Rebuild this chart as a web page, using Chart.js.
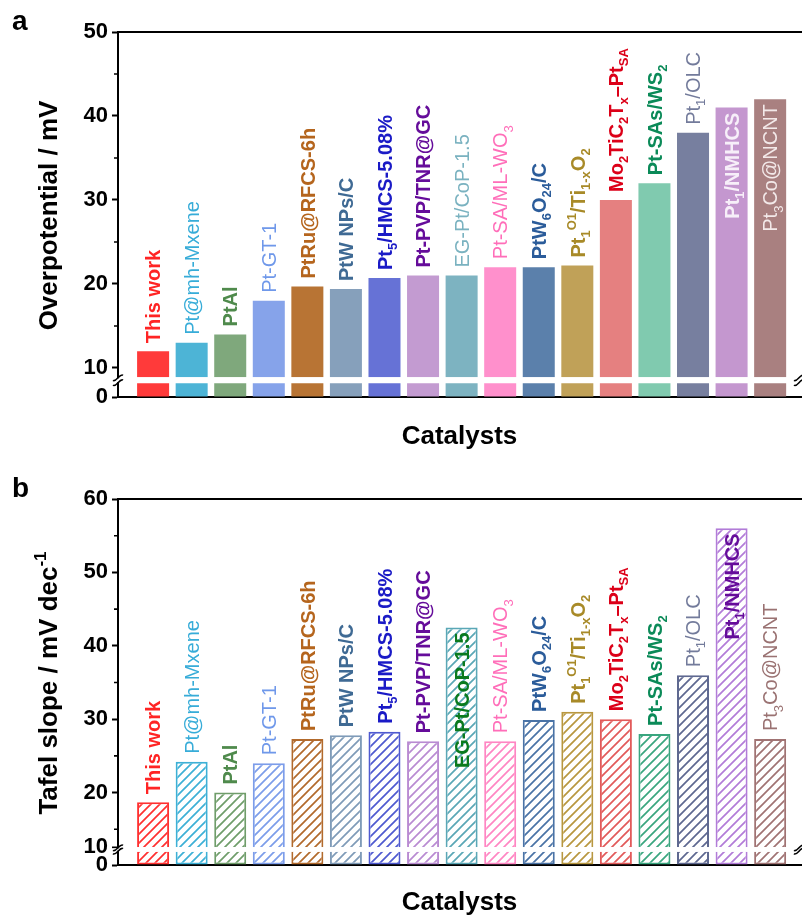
<!DOCTYPE html>
<html>
<head>
<meta charset="utf-8">
<title>Overpotential and Tafel slope of Pt-based catalysts</title>
<script src="https://cdn.jsdelivr.net/npm/chart.js@4.4.0/dist/chart.umd.min.js"></script>
<style>
  html, body { margin: 0; padding: 0; background: #fff; }
  .panel { position: relative; width: 802px; height: 460px; }
  canvas { display: block; }
</style>
</head>
<body>
<div class="panel"><canvas id="chartA" width="802" height="460"></canvas></div>
<div class="panel"><canvas id="chartB" width="802" height="460"></canvas></div>
<script>
// ---- data ------------------------------------------------------------
// Catalyst names; _{..} marks a subscript and ^{..} a superscript.
const CATALYSTS = [
  'This work', 'Pt@mh-Mxene', 'PtAl', 'Pt-GT-1', 'PtRu@RFCS-6h', 'PtW NPs/C',
  'Pt_{5}/HMCS-5.08%', 'Pt-PVP/TNR@GC', 'EG-Pt/CoP-1.5', 'Pt-SA/ML-WO_{3}',
  'PtW_{6}O_{24}/C', 'Pt_{1}^{O1}/Ti_{1-x}O_{2}', 'Mo_{2}TiC_{2}T_{x}\u2013Pt_{SA}',
  'Pt-SAs/WS_{2}', 'Pt_{1}/OLC', 'Pt_{1}/NMHCS', 'Pt_{3}Co@NCNT'
];
// Overpotential at 10 mA cm-2 (mV)
const OVERPOTENTIAL = [12, 13, 14, 18, 19.7, 19.4, 20.7, 21, 21, 22, 22, 22.2, 30, 32, 38, 41, 42];
// Tafel slope (mV dec-1)
const TAFEL_SLOPE = [18.7, 24.2, 20, 24, 27.3, 27.8, 28.3, 27, 42.5, 27, 29.9, 31, 30, 28, 36, 56, 27.3];

// Tick values of the broken y axes
const A_MAJOR_TICKS = [10, 20, 30, 40, 50];
const A_MINOR_TICKS = [15, 25, 35, 45];
const A_LOW_TICKS = [0];
const B_MAJOR_TICKS = [20, 30, 40, 50, 60];
const B_MINOR_TICKS = [15, 25, 35, 45, 55];
const B_LOW_TICKS = [0, 10];

// Axis break ranges: upper segment [hiMin, hiMax], lower segment [0, loMax],
// lower stubs are drawn up to loStub so that a white gap marks the break.
const A_AXIS = { hiMin: 8.89, hiMax: 50, loMax: 10, loStub: 7 };
const B_AXIS = { hiMin: 12.55, hiMax: 60, loMax: 10, loStub: 7.5 };

// ---- styles ----------------------------------------------------------
const FONT = 'Arial, "Liberation Sans", Helvetica, sans-serif';

const A_BAR_COLORS = ['#ff3a3a', '#4db4d6', '#7fa87c', '#86a3ea', '#b87434', '#86a0bb', '#6672d6',
  '#c39bd1', '#7db3c1', '#ff90cc', '#5b80ab', '#c0a158', '#e58080', '#80caaf', '#777f9f', '#c497cf', '#a98080'];
const A_LABEL_COLORS = ['#ff2424', '#37acd8', '#4f8a4c', '#6f98ea', '#b5651d', '#3f6a94', '#1a1ac6',
  '#650c9a', '#7ab2c0', '#ff6eb9', '#2b5c9a', '#a88a28', '#dc0018', '#0b8a58', '#737b9b', '#f7eff9', '#f3e9e9'];
const A_LABEL_BOLD = [1, 0, 1, 0, 1, 1, 1, 1, 0, 0, 1, 1, 1, 1, 0, 1, 0];
const A_LABEL_INSIDE = [15, 16];

const B_BAR_COLORS = ['#ff3030', '#3db0d6', '#6f9d6a', '#7c9dea', '#b26a2c', '#7f9bb8', '#4f5ad0',
  '#b98bd2', '#5aa7b6', '#ff86c3', '#4a73a6', '#b8973f', '#e25a5a', '#3aa67f', '#5e6890', '#b27cd8', '#a07373'];
const B_LABEL_COLORS = ['#ff2424', '#37acd8', '#4f8a4c', '#6f98ea', '#b5651d', '#3f6a94', '#1a1ac6',
  '#650c9a', '#0a7a1e', '#ff6eb9', '#2b5c9a', '#a88a28', '#dc0018', '#0b8a58', '#737b9b', '#650c9a', '#9a7272'];
const B_LABEL_BOLD = [1, 0, 1, 0, 1, 1, 1, 1, 1, 0, 1, 1, 1, 1, 0, 1, 0];
const B_LABEL_INSIDE = [8, 15];

// ---- helpers -----------------------------------------------------------
function hatch(color) {
  const s = 9;
  const c = document.createElement('canvas');
  c.width = s; c.height = s;
  const g = c.getContext('2d');
  g.fillStyle = '#fff';
  g.fillRect(0, 0, s, s);
  g.strokeStyle = color;
  g.lineWidth = 1.7;
  g.beginPath();
  g.moveTo(-2, s + 2); g.lineTo(s + 2, -2);
  g.moveTo(-2, 2); g.lineTo(2, -2);
  g.moveTo(s - 2, s + 2); g.lineTo(s + 2, s - 2);
  g.stroke();
  return g.createPattern(c, 'repeat');
}

function parseRich(str) {
  const segs = [];
  const re = /([_^])\{([^}]*)\}|([^_^]+)/g;
  let m;
  while ((m = re.exec(str))) {
    if (m[3]) segs.push({ t: m[3], k: 0 });
    else segs.push({ t: m[2], k: m[1] === '_' ? 1 : -1 });
  }
  return segs;
}

function segFont(seg, size, weight) {
  const s = seg.k ? Math.round(size * 0.64) : size;
  return `${weight} ${s}px ${FONT}`;
}

function richWidth(ctx, segs, size, weight) {
  let w = 0;
  for (const seg of segs) { ctx.font = segFont(seg, size, weight); w += ctx.measureText(seg.t).width; }
  return w;
}

function drawRich(ctx, segs, x, y, size, weight) {
  let cx = x;
  for (const seg of segs) {
    ctx.font = segFont(seg, size, weight);
    const dy = seg.k === 1 ? size * 0.26 : seg.k === -1 ? -size * 0.42 : 0;
    ctx.fillText(seg.t, cx, y + dy);
    cx += ctx.measureText(seg.t).width;
  }
}

function breakMark(ctx, x, y) {
  ctx.beginPath();
  ctx.moveTo(x - 5, y + 2.5);
  ctx.bezierCurveTo(x - 2, y + 5, x + 2, y - 5, x + 5, y - 2.5);
  ctx.stroke();
}

// ---- one panel -----------------------------------------------------------
function makePanel(id, spec) {
  const ax = spec.axis;
  const n = CATALYSTS.length;
  const hatched = spec.hatched;
  const fills = spec.barColors.map(c => hatched ? hatch(c) : c);

  const decorations = {
    id: 'decorations',
    afterDatasetsDraw(chart) {
      const { ctx } = chart;
      const xs = chart.scales.x, yHi = chart.scales.yHi;
      ctx.save();
      ctx.textBaseline = 'alphabetic';
      ctx.textAlign = 'left';
      // catalyst names above (or inside) each bar
      for (let i = 0; i < n; i++) {
        const segs = parseRich(CATALYSTS[i]);
        const size = 20;
        const weight = spec.labelBold[i] ? 'bold' : 'normal';
        const cx = xs.getPixelForValue(i);
        const top = yHi.getPixelForValue(spec.values[i]);
        const w = richWidth(ctx, segs, size, weight);
        const inside = spec.labelInside.includes(i);
        const startY = inside ? top + 5 + w : top - 8;
        ctx.save();
        ctx.translate(cx + size * 0.36, startY);
        ctx.rotate(-Math.PI / 2);
        ctx.fillStyle = spec.labelColors[i];
        drawRich(ctx, segs, 0, 0, size, weight);
        ctx.restore();
      }
      ctx.restore();
    },
    afterDraw(chart) {
      const { ctx, chartArea } = chart;
      const yHi = chart.scales.yHi, yLo = chart.scales.yLo;
      ctx.save();
      ctx.strokeStyle = '#000';
      ctx.lineWidth = 2;
      // top frame line
      ctx.beginPath();
      ctx.moveTo(chartArea.left - 1, chartArea.top);
      ctx.lineTo(chartArea.right + 2, chartArea.top);
      ctx.stroke();
      // minor ticks on the upper segment
      ctx.lineWidth = 1.6;
      ctx.beginPath();
      for (const v of spec.minorTicks) {
        if (v < ax.hiMin) continue;
        const y = yHi.getPixelForValue(v);
        ctx.moveTo(chartArea.left - 4, y);
        ctx.lineTo(chartArea.left, y);
      }
      ctx.stroke();
      // axis break
      const gTop = yHi.bottom;
      const gBot = yLo.getPixelForValue(ax.loStub);
      ctx.fillStyle = '#fff';
      ctx.fillRect(chartArea.left - 6, gTop + 1, 12, gBot - gTop - 2);
      ctx.lineWidth = 1.6;
      breakMark(ctx, chartArea.left, gTop + 0.5);
      breakMark(ctx, chartArea.left, gBot - 0.5);
      breakMark(ctx, chartArea.right - 2, gTop + 0.5);
      breakMark(ctx, chartArea.right - 2, gBot - 0.5);

      // titles and panel letter
      ctx.fillStyle = '#000';
      ctx.textAlign = 'center';
      ctx.textBaseline = 'middle';
      ctx.font = `bold 26px ${FONT}`;
      ctx.fillText('Catalysts', (chartArea.left + chartArea.right) / 2, spec.xTitleY);
      ctx.save();
      ctx.translate(47.5, (chartArea.top + chartArea.bottom) / 2 + 1);
      ctx.rotate(-Math.PI / 2);
      const tsegs = parseRich(spec.yTitle);
      const tw = richWidth(ctx, tsegs, 26, 'bold');
      ctx.textAlign = 'left';
      ctx.textBaseline = 'alphabetic';
      drawRich(ctx, tsegs, -tw / 2, 9, 26, 'bold');
      ctx.restore();
      ctx.font = `bold 28px ${FONT}`;
      ctx.textAlign = 'left';
      ctx.textBaseline = 'alphabetic';
      ctx.fillText(spec.letter, 12, spec.letterY);
      ctx.restore();
    }
  };

  const yCommon = {
    type: 'linear',
    position: 'left',
    stack: 'v',
    grid: { drawOnChartArea: false, drawTicks: true, tickLength: 6, tickWidth: 2, tickColor: '#000' },
    border: { display: true, width: 2, color: '#000' },
    ticks: {
      color: '#000', padding: 4, autoSkip: false,
      font: { family: FONT, size: 22, weight: 'bold' }, callback: v => String(v)
    },
    afterFit: s => { s.width = 118; }
  };

  return new Chart(document.getElementById(id), {
    type: 'bar',
    data: {
      datasets: [
        {
          xAxisID: 'x', yAxisID: 'yHi',
          data: spec.values.map((v, i) => ({ x: i, y: [ax.hiMin, v] })),
          backgroundColor: fills,
          borderColor: spec.barColors,
          borderWidth: hatched ? 2 : 0,
          borderSkipped: 'bottom',
          grouped: false,
          barPercentage: 0.83,
          categoryPercentage: 1
        },
        {
          xAxisID: 'x', yAxisID: 'yLo',
          data: spec.values.map((v, i) => ({ x: i, y: [0, Math.min(v, ax.loStub)] })),
          backgroundColor: fills,
          borderColor: spec.barColors,
          borderWidth: hatched ? 2 : 0,
          borderSkipped: 'top',
          grouped: false,
          barPercentage: 0.83,
          categoryPercentage: 1
        }
      ]
    },
    options: {
      responsive: false,
      animation: false,
      devicePixelRatio: 1,
      layout: { padding: { top: spec.padTop, right: 1, bottom: 0, left: 0 } },
      plugins: { legend: { display: false }, tooltip: { enabled: false } },
      scales: {
        x: {
          type: 'linear', min: -0.91, max: 16.8, offset: false,
          grid: { display: false, drawTicks: false },
          ticks: { display: false },
          border: { display: true, width: 2, color: '#000' },
          afterFit: s => { s.height = spec.xHeight; }
        },
        yLo: Object.assign({}, yCommon, {
          min: 0, max: ax.loMax,
          stackWeight: spec.loWeight,
          afterBuildTicks: s => { s.ticks = spec.lowTicks.map(v => ({ value: v })); }
        }),
        yHi: Object.assign({}, yCommon, {
          min: ax.hiMin, max: ax.hiMax,
          stackWeight: spec.hiWeight,
          afterBuildTicks: s => { s.ticks = spec.majorTicks.map(v => ({ value: v })); }
        })
      }
    },
    plugins: [decorations]
  });
}

makePanel('chartA', {
  values: OVERPOTENTIAL, axis: A_AXIS, hatched: false,
  barColors: A_BAR_COLORS, labelColors: A_LABEL_COLORS, labelBold: A_LABEL_BOLD, labelInside: A_LABEL_INSIDE,
  majorTicks: A_MAJOR_TICKS, minorTicks: A_MINOR_TICKS, lowTicks: A_LOW_TICKS,
  hiWeight: 345.3, loWeight: 19.7, padTop: 32, xHeight: 63, xTitleY: 437, letter: 'a', letterY: 30,
  yTitle: 'Overpotential / mV'
});

makePanel('chartB', {
  values: TAFEL_SLOPE, axis: B_AXIS, hatched: true,
  barColors: B_BAR_COLORS, labelColors: B_LABEL_COLORS, labelBold: B_LABEL_BOLD, labelInside: B_LABEL_INSIDE,
  majorTicks: B_MAJOR_TICKS, minorTicks: B_MINOR_TICKS, lowTicks: B_LOW_TICKS,
  hiWeight: 348.3, loWeight: 17.7, padTop: 39, xHeight: 55, xTitleY: 443, letter: 'b', letterY: 37,
  yTitle: 'Tafel slope / mV dec^{-1}'
});
</script>
</body>
</html>
